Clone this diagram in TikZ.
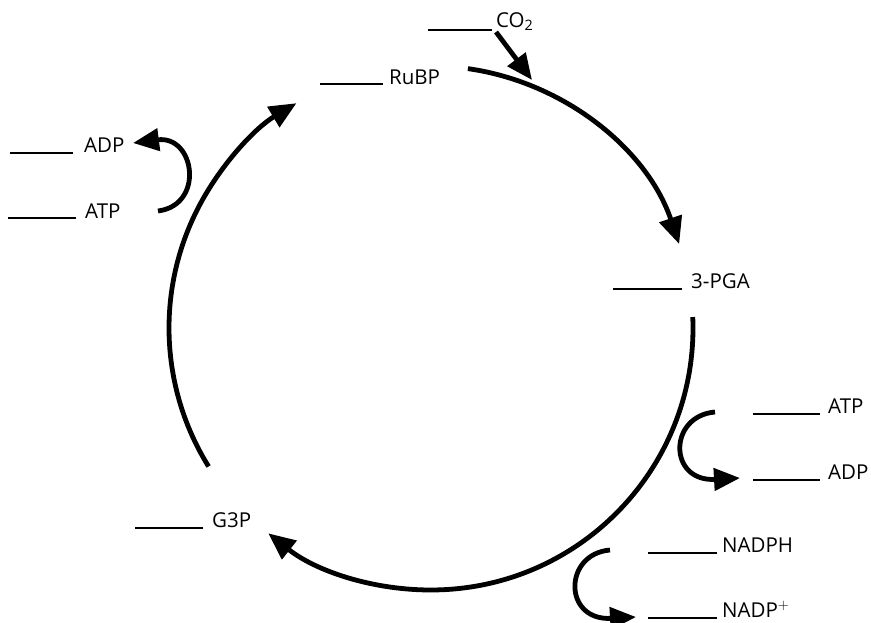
\documentclass[tikz,border=0pt]{standalone}
\usepackage{fontspec}
\setmainfont{Open Sans}
\usetikzlibrary{arrows.meta,calc}
\begin{document}
\begin{tikzpicture}[x=1pt,y=-1pt,
  lbl/.style={inner sep=0pt, anchor=base west, font=\fontsize{20.5}{24}\selectfont},
  blank/.style={line width=2.6pt},
  cyc/.style={line width=4.8pt, -{Triangle[length=27pt,width=23pt]}},
  side/.style={line width=4.8pt, -{Triangle[length=26pt,width=22pt]}}]
\useasboundingbox (0,0) rectangle (871,622);
% labels
\node[lbl] (co2) at (496,27) {CO\textsubscript{2}};
\node[lbl] (rubp) at (389,84) {RuBP};
\node[lbl] (adpL) at (84,152) {ADP};
\node[lbl] (atpL) at (85,218) {ATP};
\node[lbl] (pga) at (691,288) {3-PGA};
\node[lbl] (g3p) at (212,527) {G3P};
\node[lbl] (atpR) at (828,413) {ATP};
\node[lbl] (adpR) at (828,479) {ADP};
\node[lbl] (nadph) at (722,552) {NADPH};
\node[lbl] (nadp) at (722,617) {NADP$^{+}$};
% blanks
\draw[blank] ([xshift=-4pt,yshift=-3pt]co2.base west) -- ++(-64,0);
\draw[blank] ([xshift=-6pt]rubp.base west) -- ++(-63,0);
\draw[blank] ([xshift=-11pt,yshift=-1pt]adpL.base west) -- ++(-63,0);
\draw[blank] ([xshift=-9pt]atpL.base west) -- ++(-68,0);
\draw[blank] ([xshift=-9pt,yshift=-1pt]pga.base west) -- ++(-69,0);
\draw[blank] ([xshift=-9pt,yshift=-1pt]g3p.base west) -- ++(-68,0);
\draw[blank] ([xshift=-8pt,yshift=-1pt]atpR.base west) -- ++(-67,0);
\draw[blank] ([xshift=-8pt,yshift=-1pt]adpR.base west) -- ++(-67,0);
\draw[blank] ([xshift=-5pt,yshift=-1pt]nadph.base west) -- ++(-69,0);
\draw[blank] ([xshift=-5pt,yshift=-1pt]nadp.base west) -- ++(-69,0);
% cycle
\coordinate (c) at (431,328);
\coordinate (a1) at ($(c)+(-81.9:262)$);
\coordinate (a2) at ($(c)+(-2.4:262)$);
\coordinate (a3) at ($(c)+(148.1:262)$);
\draw[cyc] (a1) arc[start angle=-81.9, end angle=-18.7, radius=262];
\draw[cyc] (a2) arc[start angle=-2.4, end angle=128.4, radius=262];
\draw[cyc] (a3) arc[start angle=148.1, end angle=239.1, radius=262];
% CO2 input
\coordinate (co2s) at (496,32);
\coordinate (co2t) at (532,80);
\draw[side] (co2s) -- (co2t);
% side reactions
\coordinate (l1) at (158,211);
\coordinate (l2) at (133,143);
\draw[side] (l1) .. controls (205,205) and (195,135) .. (l2);
\coordinate (r1) at (715,412);
\coordinate (r2) at (740,478);
\draw[side] (r1) .. controls (668,416) and (668,482) .. (r2);
\coordinate (n1) at (610,550);
\coordinate (n2) at (636,617);
\draw[side] (n1) .. controls (563,554) and (563,621) .. (n2);
\end{tikzpicture}
\end{document}
